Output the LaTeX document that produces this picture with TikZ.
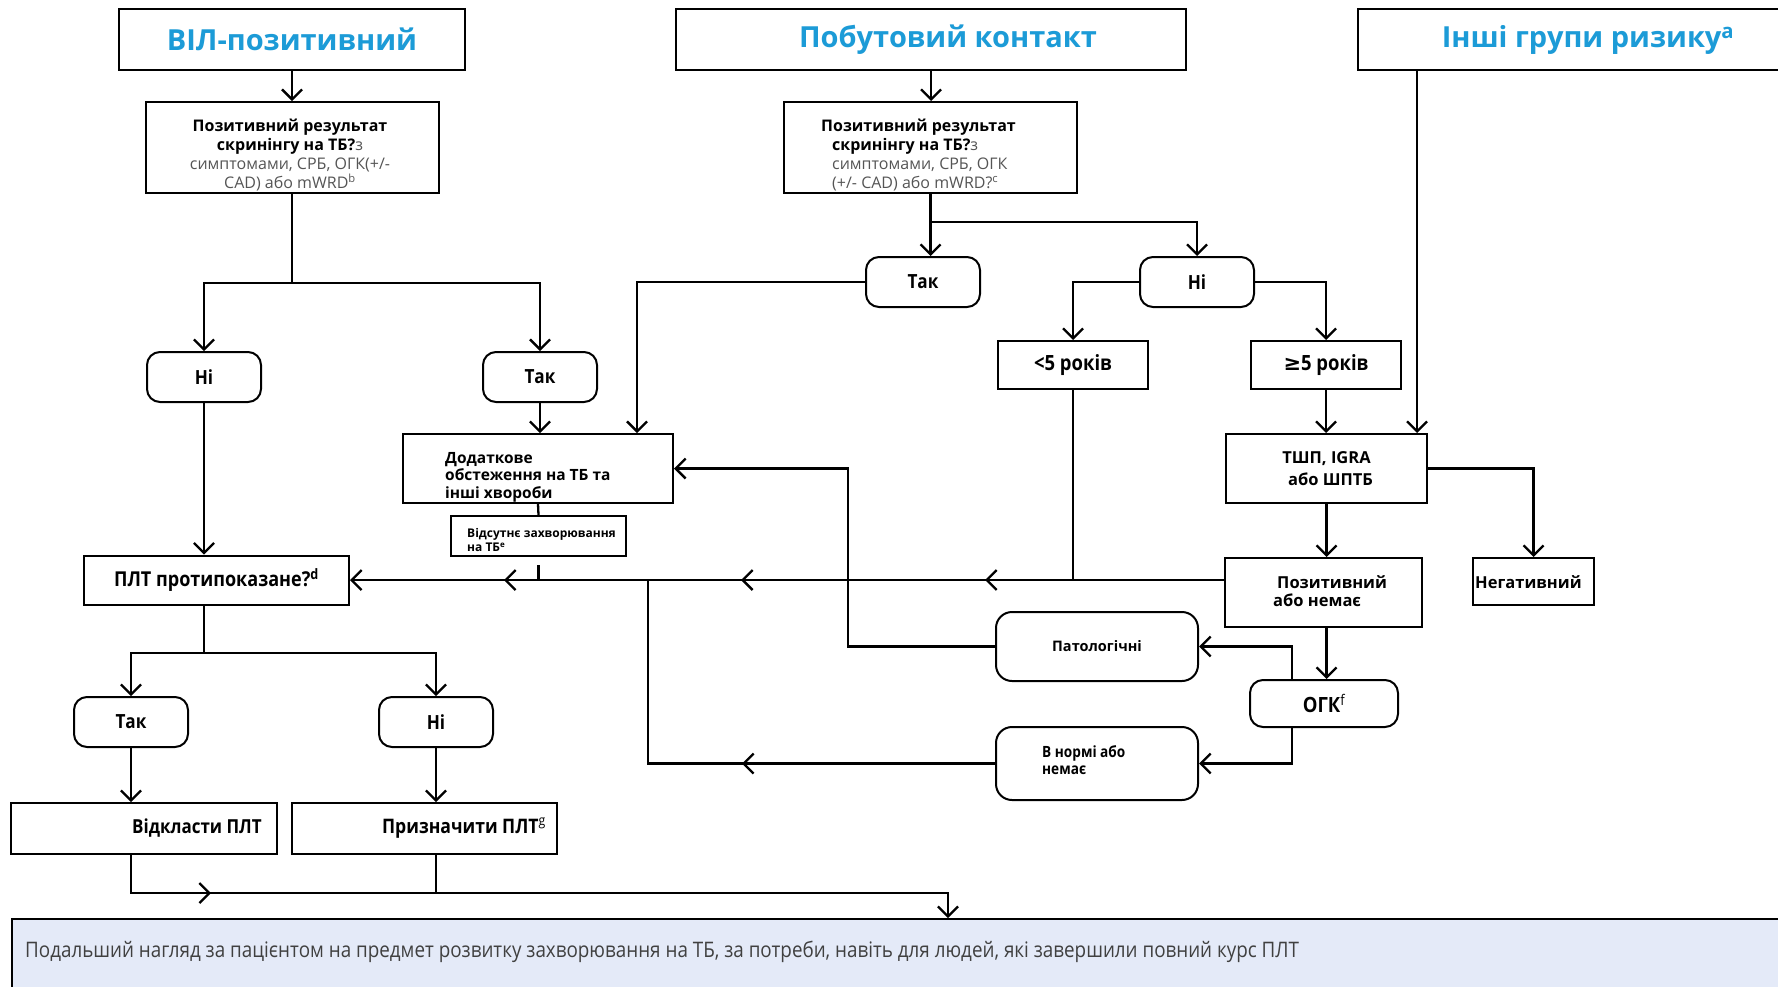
\documentclass[tikz,border=0pt]{standalone}
\usepackage{fontspec}
\setmainfont{Open Sans}
\newfontfamily\cnd{Open Sans}[FakeStretch=0.88]
\newfontfamily\dvs{DejaVu Sans}
\usetikzlibrary{arrows.meta,decorations.markings}
\definecolor{headblue}{RGB}{28,155,215}
\definecolor{barfill}{RGB}{228,234,248}
\definecolor{softgray}{RGB}{85,85,85}
\definecolor{bartext}{RGB}{64,64,64}
\begin{document}
\begin{tikzpicture}[x=1pt,y=-1pt,
  >={Straight Barb[length=10pt,width=20pt]},
  frame/.style={draw, line width=2pt, inner sep=0pt},
  rframe/.style={frame, rounded corners=13pt},
  conn/.style={line width=2.3pt, ->},
  wire/.style={line width=2.3pt},
  head/.style={text=headblue, inner sep=0pt, font=\bfseries\fontsize{29}{34}\selectfont},
  cb/.style={font=\cnd\bfseries\fontsize{#1}{#1}\selectfont},
  ob/.style={font=\bfseries\fontsize{#1}{#1}\selectfont},
  txt/.style={inner sep=0pt},
  yn/.style={rframe, minimum width=114pt, minimum height=50pt, cb=19.5},
]
\useasboundingbox (0,0) rectangle (1778,986);
\fill[white] (0,0) rectangle (1778,986);

% helper coordinates
\coordinate (ym) at (0,580);
\coordinate (j1) at (292,283);
\coordinate (j2y) at (0,222);
\coordinate (j3y) at (0,653);
\coordinate (j4y) at (0,893);
\coordinate (xd) at (637,0);
\coordinate (xp) at (848,0);
\coordinate (xl) at (648,0);
\coordinate (xo) at (1292,0);
\coordinate (xc) at (1417,0);
\coordinate (xb) at (948,0);

% top headers
\node[frame, head, minimum width=346pt, minimum height=61pt] (A) at (292,39.5) {ВІЛ-позитивний};
\node[frame, minimum width=510pt, minimum height=61pt] (B) at (931,39.5) {};
\node[head] (Bt) at (948,40) {Побутовий контакт};
\node[frame, minimum width=432pt, minimum height=61pt] (C) at (1574,39.5) {};
\node[head] (Ct) at (1588,40) {Інші групи ризику\textsuperscript{a}};

% screening boxes
\node[frame, minimum width=293pt, minimum height=91pt] (s1) at (292,147.5) {};
\node[txt, align=center, font=\bfseries\fontsize{16}{19}\selectfont] (s1t) at (290,155)
 {Позитивний результат\\скринінгу на ТБ?{\mdseries\color{softgray}з}\\{\mdseries\color{softgray}симптомами, СРБ, ОГК(+/-}\\{\mdseries\color{softgray}CAD) або mWRD\textsuperscript{b}}};
\node[frame, minimum width=293pt, minimum height=91pt] (s2) at (930.5,147.5) {};
\node[txt, anchor=west, align=left, font=\bfseries\fontsize{16}{19}\selectfont] (s2t) at (821,155)
 {Позитивний результат\\\hspace*{11pt}скринінгу на ТБ?{\mdseries\color{softgray}з}\\\hspace*{11pt}{\mdseries\color{softgray}симптомами, СРБ, ОГК}\\\hspace*{11pt}{\mdseries\color{softgray}(+/- CAD) або mWRD?\textsuperscript{c}}};

% left branch
\node[yn] (ni1) at (204,377) {Ні};
\node[yn] (tak1) at (540,377) {Так};
\node[frame, minimum width=270pt, minimum height=69pt] (dod) at (538,468.5) {};
\node[txt, anchor=west, align=left, font=\bfseries\fontsize{15.5}{17.5}\selectfont] (dodt) at (445,477) {Додаткове\\обстеження на ТБ та\\інші хвороби};
\node[frame, minimum width=175pt, minimum height=40pt] (vid) at (538.5,536) {};
\node[txt, anchor=west, align=left, font=\bfseries\fontsize{12}{14.5}\selectfont] (vidt) at (467,540) {Відсутнє захворювання\\на ТБ\textsuperscript{e}};
\node[frame, minimum width=265pt, minimum height=49pt, cb=20.5] (plt) at (216.5,580) {ПЛТ протипоказане?\textsuperscript{d}};

% middle branch
\node[yn] (tak2) at (923,282) {Так};
\node[yn] (ni2) at (1197,282) {Ні};
\node[frame, minimum width=150pt, minimum height=48pt, cb=21] (lt5) at (1073,365) {<5 років};
\node[frame, minimum width=150pt, minimum height=48pt, cb=21] (ge5) at (1326,365) {{\dvs\bfseries ≥}5 років};
\node[frame, minimum width=201pt, minimum height=69pt, ob=16.5, align=center] (tsp) at (1326.5,468.5) {ТШП, IGRA\\[6pt]\hspace*{8pt}або ШПТБ};
\node[frame, minimum width=121pt, minimum height=47pt] (neg) at (1533.5,581.5) {};
\node[txt, anchor=west, ob=16.5] (negt) at (1475,582) {Негативний};
\node[frame, minimum width=197pt, minimum height=69pt] (pos) at (1323.5,592.5) {};
\node[txt, anchor=west, align=left, font=\bfseries\fontsize{16.5}{18.5}\selectfont] (post) at (1273,591) {\hspace*{4pt}Позитивний\\або немає};
\node[rframe, minimum width=148pt, minimum height=47pt, cb=21] (ogk) at (1324,703.5) {ОГК\textsuperscript{\mdseries f}};
\node[rframe, rounded corners=16pt, minimum width=202pt, minimum height=69pt, ob=14.5] (pat) at (1097,646.5) {Патологічні};
\node[rframe, rounded corners=16pt, minimum width=202pt, minimum height=73pt] (norm) at (1097,763.5) {};
\node[txt, anchor=west, align=left, font=\cnd\bfseries\fontsize{15.5}{17}\selectfont] (normt) at (1042,760) {В нормі або\\немає};

% bottom-left
\node[yn] (tak3) at (131,722) {Так};
\node[yn] (ni3) at (436,722) {Ні};
\node[frame, minimum width=266pt, minimum height=51pt] (otk) at (144,828.5) {};
\node[txt, cb=19.3] (otkt) at (197,828) {Відкласти ПЛТ};
\node[frame, minimum width=265pt, minimum height=51pt] (priz) at (424.5,828.5) {};
\node[txt, cb=20] (prizt) at (464,828) {Призначити ПЛТ\textsuperscript{\mdseries g}};

% bottom bar
\node[frame, fill=barfill, anchor=north west, minimum width=1800pt, minimum height=90pt] (bar) at (11,918) {};
\node[txt, anchor=west, text=bartext, font=\cnd\fontsize{21.4}{25}\selectfont] (bart) at (25,952)
 {Подальший нагляд за пацієнтом на предмет розвитку захворювання на ТБ, за потреби, навіть для людей, які завершили повний курс ПЛТ};

% connectors
\draw[conn] (A.south) -- (s1.north);
\draw[conn] (B.south) -- (B.south |- s2.north);
\draw[wire] (s1.south) -- (j1);
\draw[conn] (j1) -| (ni1.north);
\draw[conn] (j1) -| (tak1.north);
\draw[conn] (ni1.south) -- (ni1.south |- plt.north);
\draw[conn] (tak1.south) -- (tak1.south |- dod.north);
\draw[wire] (dod.south) -- (vid.north);
\draw[wire, shorten <=8pt] (vid.south) -- (vid.south |- ym);
\draw[conn] (s2.south) -- (s2.south |- tak2.north);
\draw[conn] (s2.south |- j2y) -| (ni2.north);
\draw[conn] (tak2.west) -| (xd |- dod.north);
\draw[conn] (ni2.west) -| (lt5.north);
\draw[conn] (ni2.east) -| (ge5.north);
\draw[wire] (lt5.south) -- (lt5.south |- ym);
\draw[conn] (ge5.south) -- (ge5.south |- tsp.north);
\draw[conn] (xc |- C.south) -- (xc |- tsp.north);
\draw[conn] (tsp.east) -| (neg.north);
\draw[conn] (tsp.south) -- (tsp.south |- pos.north);
\draw[conn] (tsp.south |- pos.south) -- (tsp.south |- ogk.north);
\draw[conn] (xo |- ogk.north) |- (pat.east);
\draw[conn] (xo |- ogk.south) |- (norm.east);
\draw[conn] (pat.west) -| (xp |- dod.east) -- (dod.east);
\draw[conn, postaction={decorate}, decoration={markings,
   mark=at position 239pt with {\arrow{>}},
   mark=at position 483pt with {\arrow{>}},
   mark=at position 720pt with {\arrow{>}}}]
   (pos.west |- ym) -- (plt.east |- ym);
\draw[wire, postaction={decorate}, decoration={markings,
   mark=at position 253pt with {\arrow{>}}}]
   (norm.west) -| (xl |- ym);
\draw[wire] (ni1.south |- plt.south) -- (ni1.south |- j3y);
\draw[conn] (ni1.south |- j3y) -| (tak3.north);
\draw[conn] (ni1.south |- j3y) -| (ni3.north);
\draw[conn] (tak3.south) -- (tak3.south |- otk.north);
\draw[conn] (ni3.south) -- (ni3.south |- priz.north);
\draw[conn, postaction={decorate}, decoration={markings,
   mark=at position 118pt with {\arrow{>}}}]
   (tak3.south |- otk.south) |- (xb |- j4y) -- (xb |- bar.north);
\draw[wire] (ni3.south |- priz.south) -- (ni3.south |- j4y);
\end{tikzpicture}
\end{document}
